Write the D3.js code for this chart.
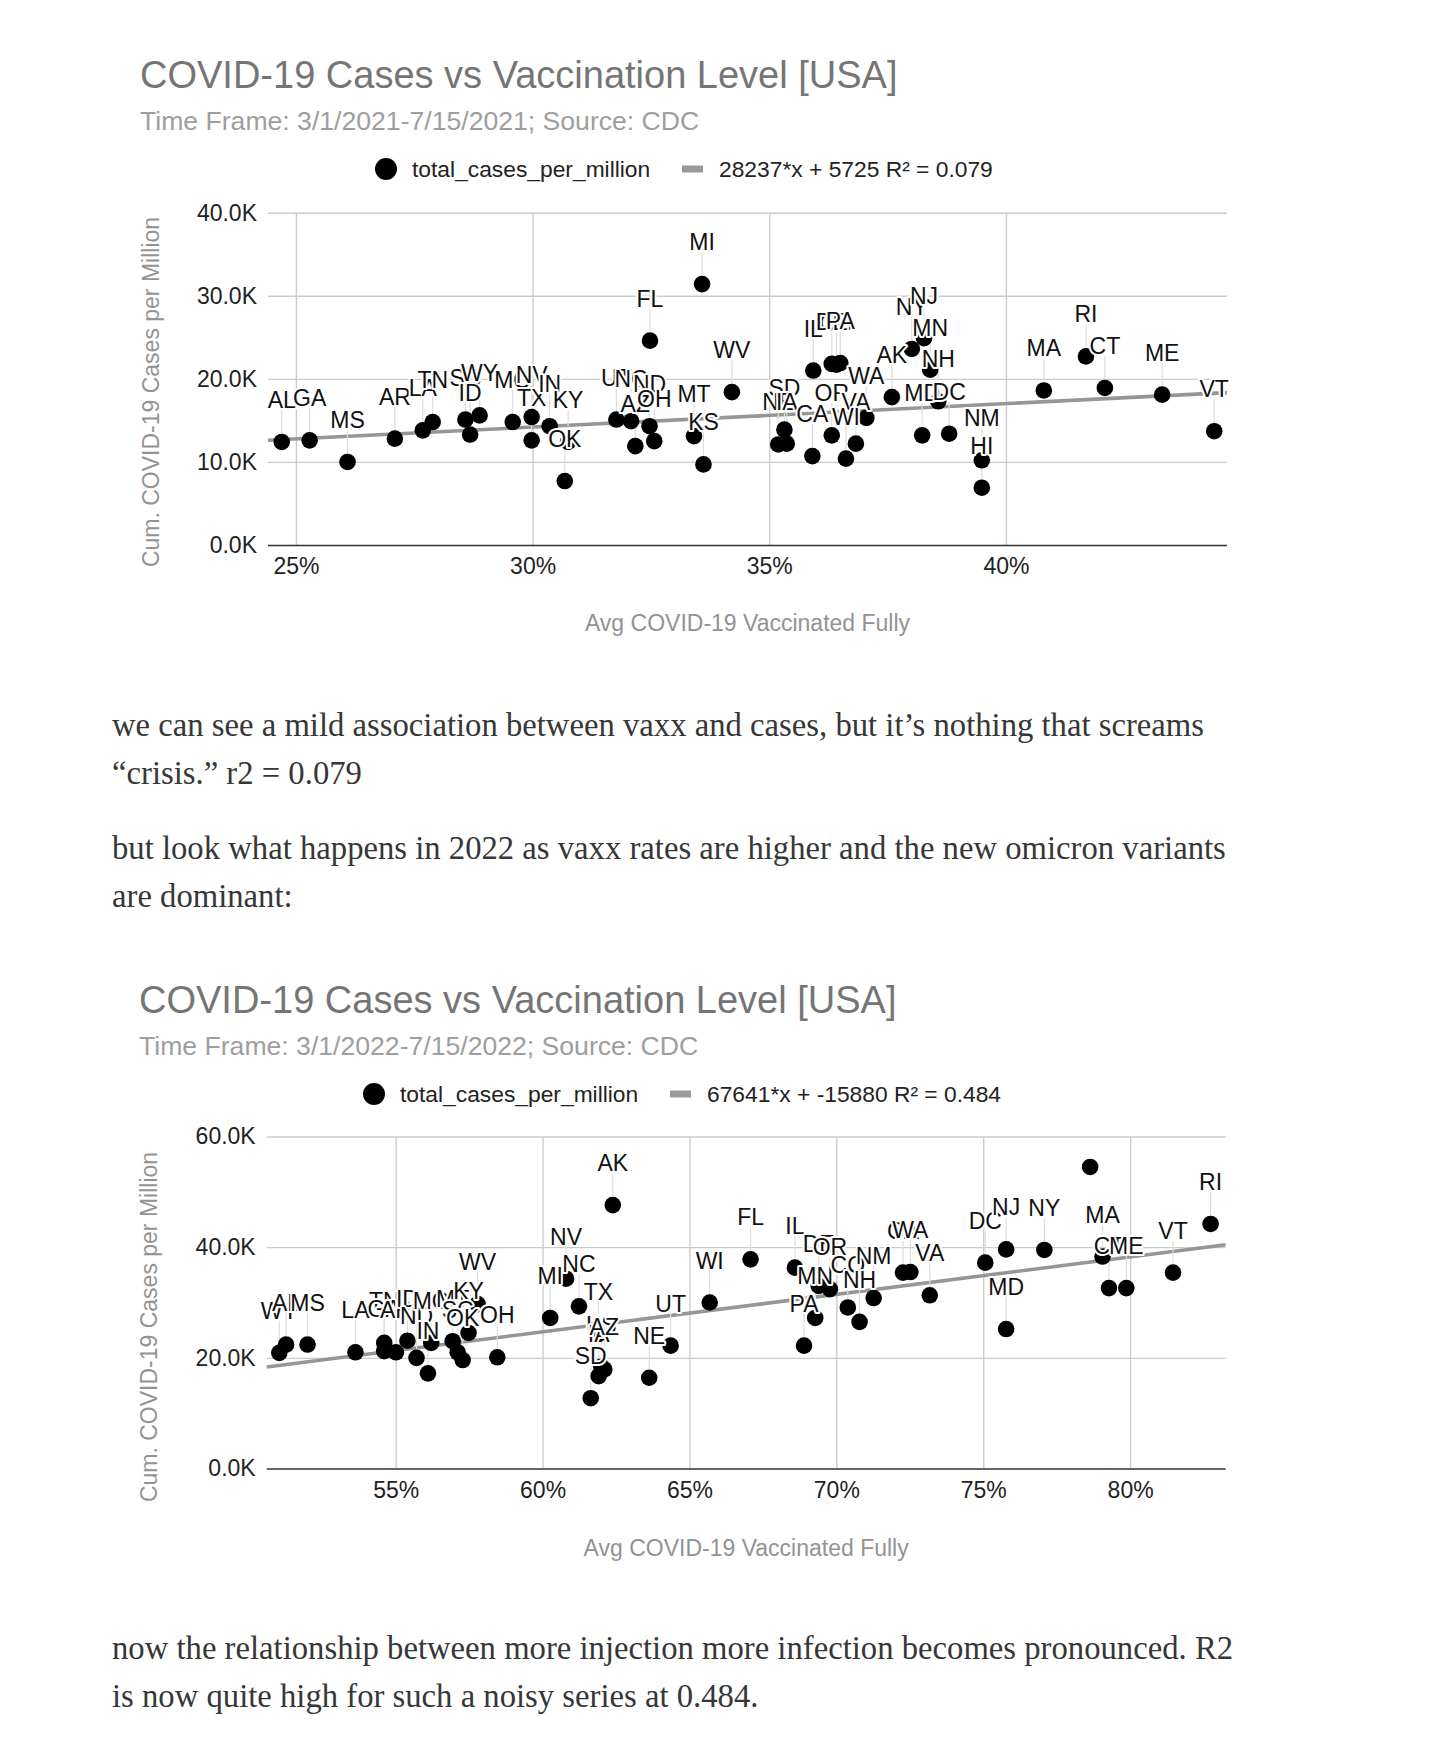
<!DOCTYPE html>
<html>
<head>
<meta charset="utf-8">
<script src="https://cdn.jsdelivr.net/npm/d3@7"></script>
<style>
body { margin: 0; background: #fff; }
</style>
</head>
<body>
<script>
// values

// 2021 chart
var title2021 = "COVID-19 Cases vs Vaccination Level [USA]";
var sub2021 = "Time Frame: 3/1/2021-7/15/2021; Source: CDC";
var trend2021 = [28237, 5725];       // slope, intercept (x as fraction)
var trendText2021 = "28237*x + 5725 R\u00b2 = 0.079";
var xRange2021 = [24.41, 44.67];
var yRange2021 = [0, 40000];
var xTicks2021 = [25, 30, 35, 40];
var yTicks2021 = [0, 10000, 20000, 30000, 40000];
var states2021 = ["AL","GA","MS","AR","LA","TN","SC","ID","WY","MO","NV","TX","IN","KY","OK","UT","NC","AZ","ND","OH",
    "MT","KS","MI","FL","WV","IL","CO","DE","PA","SD","NE","IA","OR","CA","VA","WI","WA","AK","NY","NJ",
    "MN","NH","MD","DC","NM","HI","MA","RI","CT","ME","VT"];
var vax2021 = [24.70,25.29,26.09,27.09,27.68,27.89,28.58,28.68,28.88,29.58,29.98,29.98,30.36,30.75,30.68,31.77,32.08,32.17,32.47,32.57,
    33.41,33.61,33.58,32.48,34.21,35.93,36.42,36.32,36.50,35.32,35.19,35.37,36.32,35.91,36.83,36.62,37.05,37.59,38.01,38.27,
    38.40,38.57,38.23,38.80,39.49,39.49,40.80,41.69,42.09,43.30,44.40];
var cases2021 = [12400,12600,10000,12800,13800,14800,15100,13300,15600,14800,15400,12600,14300,12400,7700,15100,14900,11900,14300,12500,
    13100,9700,31400,24600,18400,21000,21700,21800,21900,13900,12100,12200,13200,10700,12200,10400,15300,17800,23600,24900,
    21100,17300,13200,13400,10200,6900,18600,22700,18900,18100,13700];

// 2022 chart
var title2022 = "COVID-19 Cases vs Vaccination Level [USA]";
var sub2022 = "Time Frame: 3/1/2022-7/15/2022; Source: CDC";
var trend2022 = [67641, -15880];
var trendText2022 = "67641*x + -15880 R\u00b2 = 0.484";
var xRange2022 = [50.61, 83.25];
var yRange2022 = [0, 60000];
var xTicks2022 = [55, 60, 65, 70, 75, 80];
var yTicks2022 = [0, 20000, 40000, 60000];
var states2022 = ["WY","AL","MS","LA","TN","GA","AR","ID","ND","IN","MO","MT","SC","OK","KY","WV","OH","MI","NV","NC",
    "TX","KS","IA","AZ","SD","NE","UT","AK","WI","FL","IL","DE","OR","MN","PA","CO","NH","NM","CA","WA",
    "VA","DC","NJ","MD","NY","HI","MA","CT","ME","VT","RI"];
var vax2022 = [51.04,51.27,52.00,53.63,54.61,54.61,55.01,55.40,55.71,56.10,56.21,56.94,57.11,57.28,57.48,57.79,58.46,60.26,60.80,61.24,
    61.90,62.00,61.91,62.10,61.64,63.63,64.36,62.39,65.69,67.08,68.59,69.40,69.78,69.28,68.90,70.39,70.79,71.27,72.27,72.52,
    73.18,75.07,75.78,75.78,77.08,78.64,79.06,79.28,79.87,81.46,82.74];
var cases2022 = [20900,22400,22400,21000,22700,21200,21000,23100,20000,17200,22700,23000,21000,19600,24500,29700,20100,27200,34300,29300,
    24300,18400,16700,17900,12700,16400,22200,47600,30000,37800,36300,33000,32400,27200,22200,29100,26500,30800,35400,35500,
    31300,37200,39600,25200,39500,54500,38300,32600,32600,35400,44200];

var legendName = "total_cases_per_million";
var xTitle = "Avg COVID-19 Vaccinated Fully";
var yTitle = "Cum. COVID-19 Cases per Million";

var para1 = ["we can see a mild association between vaxx and cases, but it\u2019s nothing that screams",
    "\u201ccrisis.\u201d r2 = 0.079"];
var para2 = ["but look what happens in 2022 as vaxx rates are higher and the new omicron variants",
    "are dominant:"];
var para3 = ["now the relationship between more injection more infection becomes pronounced. R2",
    "is now quite high for such a noisy series at 0.484."];

var W = 1456, H = 1741;
var sans = "'Liberation Sans', Arial, sans-serif";
var serif = "'Liberation Serif', 'Times New Roman', serif";

var svg = d3.select("body")
    .append("svg")
    .attr("width", W)
    .attr("height", H)
    .style("display", "block");

var drawChart = function(c, L) {
    var x = d3.scaleLinear().domain(c.xRange).range([L.left, L.right]);
    var y = d3.scaleLinear().domain(c.yRange).range([L.bottom, L.top]);
    var g = svg.append("g").attr("font-family", sans);

    g.append("text")
        .attr("x", L.titleX).attr("y", L.titleY)
        .attr("font-size", 38).attr("fill", "#757575")
        .text(c.title);
    g.append("text")
        .attr("x", L.titleX).attr("y", L.subY)
        .attr("font-size", 26.6).attr("fill", "#9e9e9e")
        .text(c.sub);

    //legend
    g.append("circle").attr("cx", L.legX).attr("cy", L.legY).attr("r", 11).attr("fill", "#000");
    g.append("text").attr("x", L.legX + 26).attr("y", L.legY + 8)
        .attr("font-size", 22.8).attr("fill", "#222").text(legendName);
    g.append("rect").attr("x", L.leg2X).attr("y", L.legY - 3.5).attr("width", 21).attr("height", 7).attr("fill", "#999");
    g.append("text").attr("x", L.leg2X + 37).attr("y", L.legY + 8)
        .attr("font-size", 22.8).attr("fill", "#222").text(c.trendText);

    // horizontal gridlines + y labels
    var ya = g.append("g")
        .attr("transform", "translate(" + L.left + ",0)")
        .call(d3.axisLeft(y).tickValues(c.yTicks)
            .tickSize(-(L.right - L.left)).tickPadding(11)
            .tickFormat(function(d) { return d3.format(".1f")(d / 1000) + "K"; }));
    ya.select(".domain").remove();
    ya.selectAll(".tick line")
        .attr("stroke", function(d) { return d === 0 ? "#333" : "#cccccc"; })
        .attr("stroke-width", function(d) { return d === 0 ? 1.6 : 1.4; });
    ya.selectAll(".tick text").attr("font-size", 23).attr("fill", "#222").attr("font-family", sans);

    // vertical gridlines + x labels
    var xa = g.append("g")
        .attr("transform", "translate(0," + L.bottom + ")")
        .call(d3.axisBottom(x).tickValues(c.xTicks)
            .tickSize(-(L.bottom - L.top)).tickPadding(L.xPad)
            .tickFormat(function(d) { return d + "%"; }));
    xa.select(".domain").remove();
    xa.selectAll(".tick line").attr("stroke", "#cccccc").attr("stroke-width", 1.4);
    xa.selectAll(".tick text").attr("font-size", 23).attr("fill", "#222").attr("font-family", sans);
    ya.raise();
    ya.selectAll(".tick").filter(function(d) { return d !== 0; }).lower();

    // axis titles
    g.append("text")
        .attr("x", (L.left + L.right) / 2).attr("y", L.xTitleY)
        .attr("text-anchor", "middle").attr("font-size", 23).attr("fill", "#939393")
        .text(xTitle);
    g.append("text")
        .attr("transform", "translate(" + L.yTitleX + "," + L.yTitleMid + ") rotate(-90)")
        .attr("text-anchor", "middle").attr("font-size", 23).attr("fill", "#939393")
        .text(yTitle);

    // trend line over full x range
    var line = d3.line()
        .x(function(d) { return x(d); })
        .y(function(d) { return y(c.trend[0] * d / 100 + c.trend[1]); });
    g.append("path")
        .datum(c.xRange)
        .attr("d", line)
        .attr("fill", "none")
        .attr("stroke", "#969696")
        .attr("stroke-width", 3.6);

    var pts = c.states.map(function(s, i) {
        return { name: s, cx: x(c.vax[i]), cy: y(c.cases[i]) };
    });
    // label goes 42px above the point unless it would leave the plot
    var labelled = pts.filter(function(p) { return p.cy - 52 > L.top; });

    g.selectAll(".leader")
        .data(labelled)
        .enter()
        .append("line")
        .attr("class", "leader")
        .attr("x1", function(d) { return d.cx; })
        .attr("x2", function(d) { return d.cx; })
        .attr("y1", function(d) { return d.cy - 8; })
        .attr("y2", function(d) { return d.cy - 32; })
        .attr("stroke", "#dddddd")
        .attr("stroke-width", 1.2);

    g.selectAll(".pt")
        .data(pts)
        .enter()
        .append("circle")
        .attr("class", "pt")
        .attr("cx", function(d) { return d.cx; })
        .attr("cy", function(d) { return d.cy; })
        .attr("r", 8.3)
        .attr("fill", "#000");

    g.selectAll(".lbl")
        .data(labelled)
        .enter()
        .append("text")
        .attr("class", "lbl")
        .attr("x", function(d) { return d.cx; })
        .attr("y", function(d) { return d.cy - 34; })
        .attr("text-anchor", "middle")
        .attr("font-size", 23)
        .attr("fill", "#111")
        .attr("stroke", "#fff")
        .attr("stroke-width", 4)
        .attr("stroke-linejoin", "round")
        .attr("paint-order", "stroke")
        .text(function(d) { return d.name; });
};

var drawPara = function(lines, x0, y0) {
    svg.append("g")
        .selectAll("text")
        .data(lines)
        .enter()
        .append("text")
        .attr("x", x0)
        .attr("y", function(d, i) { return y0 + i * 48; })
        .attr("font-family", serif)
        .attr("font-size", 32.7)
        .attr("fill", "#363737")
        .text(function(d) { return d; });
};

drawChart({
    title: title2021, sub: sub2021, trend: trend2021, trendText: trendText2021,
    xRange: xRange2021, yRange: yRange2021, xTicks: xTicks2021, yTicks: yTicks2021,
    states: states2021, vax: vax2021, cases: cases2021
}, {
    left: 268, right: 1227, top: 212.7, bottom: 545,
    titleX: 140, titleY: 87.7, subY: 129.8, legX: 386, leg2X: 682, legY: 169,
    xPad: 12.5, xTitleY: 630.5, yTitleX: 159, yTitleMid: 392
});

drawPara(para1, 112, 735.5);
drawPara(para2, 112, 859);

drawChart({
    title: title2022, sub: sub2022, trend: trend2022, trendText: trendText2022,
    xRange: xRange2022, yRange: yRange2022, xTicks: xTicks2022, yTicks: yTicks2022,
    states: states2022, vax: vax2022, cases: cases2022
}, {
    left: 266.7, right: 1225.6, top: 1136.5, bottom: 1468.5,
    titleX: 139, titleY: 1013, subY: 1055, legX: 374, leg2X: 670, legY: 1094,
    xPad: 13, xTitleY: 1556, yTitleX: 157, yTitleMid: 1327
});

drawPara(para3, 112, 1658.6);
</script>
</body>
</html>
